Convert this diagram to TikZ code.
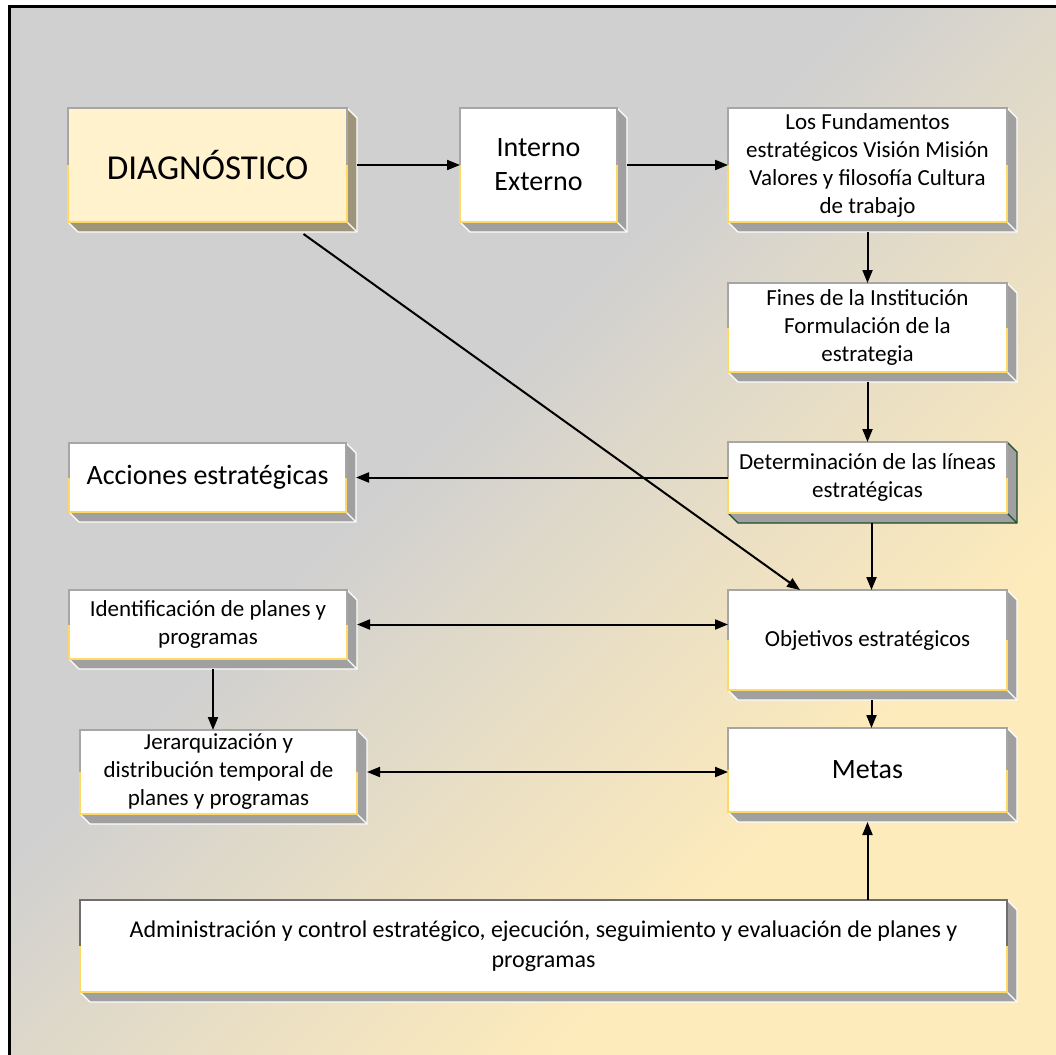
\documentclass[tikz,border=0pt]{standalone}
\usepackage{fontspec}
\setmainfont{Carlito}
\usetikzlibrary{arrows.meta}
\definecolor{bgGray}{HTML}{D0D0D0}
\definecolor{bgYellow}{HTML}{FEEBBB}
\definecolor{faceYellow}{HTML}{FFF2CC}
\definecolor{edgeGray}{HTML}{A6A6A6}
\definecolor{edgeYellow}{HTML}{FFD966}
\definecolor{edgeDark}{HTML}{6E6E6E}
\definecolor{sideGray}{HTML}{A0A0A0}
\definecolor{sideBrown}{HTML}{9D9479}
\definecolor{sideGreen}{HTML}{1E4D2B}
\pgfdeclarehorizontalshading{backshade}{100bp}
  {color(0bp)=(bgGray); color(43bp)=(bgGray); color(56bp)=(bgGray!45!bgYellow); color(68bp)=(bgYellow); color(100bp)=(bgYellow)}
\newcommand{\extrude}[4]
{
  \fill[#2] (#1.north east) -- ++(10,10) -- ([shift={(10,10)}]#1.south east)
    -- ([shift={(10,10)}]#1.south west) -- (#1.south west) -- (#1.south east) -- cycle;
  \draw[#3, line width=1.2pt, line join=round] (#1.north east) -- ++(10,10)
    -- ([shift={(10,10)}]#1.south east) -- ([shift={(10,10)}]#1.south west) -- (#1.south west);
  \draw[#3, line width=1.2pt] (#1.south east) -- ++(10,10);
  \draw[#4, line width=2.5pt] (#1.south west) rectangle (#1.north east);
  \draw[edgeYellow, line width=2.5pt] (#1.west) -- (#1.south west) -- (#1.south east) -- (#1.east);
}
\begin{document}
\begin{tikzpicture}
    [
      x=1pt,
      y=-1pt,
      box/.style=
      {
        align=center,
        inner sep=0pt,
        outer sep=0pt,
        minimum width=279pt,
        text=black,
        fill=white,
        font=\fontsize{23}{28}\selectfont
      },
      arr/.style=
      {
        line width=2pt,
        -{Triangle[length=13pt,width=10pt]}
      },
      arrboth/.style=
      {
        line width=2pt,
        {Triangle[length=13pt,width=10pt]}-{Triangle[length=13pt,width=10pt]}
      }
    ]
    % background and frame
    \begin{scope}
      \clip (0,0) rectangle (1056,1054);
      \shade[shading=backshade, shading angle=-45] (9,7) rectangle (1070,1070);
      \draw[black, line width=3pt] (9,1070) -- (9,7) -- (1070,7);
    \end{scope}
    \useasboundingbox (0,0) rectangle (1056,1054);

    \node[box, fill=faceYellow, minimum height=114pt, font=\fontsize{35}{42}\selectfont](Diagnostico) at (207.5,165)
    {DIAGNÓSTICO};
    \node[box, minimum width=157pt, minimum height=114pt, font=\fontsize{28}{34}\selectfont](InternoExterno) at (538.5,165)
    {Interno\\Externo};
    \node[box, minimum height=114pt](Fundamentos) at (867.5,165)
    {Los Fundamentos\\estratégicos Visión Misión\\Valores y filosofía Cultura\\de trabajo};
    \node[box, minimum height=89pt, below of=Fundamentos, node distance=162.5pt](Fines)
    {Fines de la Institución\\Formulación de la\\estrategia};
    \node[box, minimum height=71pt](Lineas) at (867.5,477.5)
    {Determinación de las líneas\\estratégicas};
    \node[box, minimum width=277pt, minimum height=69pt, font=\fontsize{28}{34}\selectfont](Acciones) at (207.5,477.5)
    {Acciones estratégicas};
    \node[box, minimum height=100pt](Objetivos) at (867.5,640)
    {Objetivos estratégicos};
    \node[box, minimum height=84pt, font=\fontsize{28}{34}\selectfont](Metas) at (867.5,770)
    {Metas};
    \node[box, minimum width=278pt, minimum height=69pt](Planes) at (208,624.5)
    {Identificación de planes y\\programas};
    \node[box, minimum width=277pt, minimum height=84pt](Jerarquia) at (218.5,772)
    {Jerarquización y\\distribución temporal de\\planes y programas};
    \node[box, minimum width=927pt, minimum height=92pt, font=\fontsize{24}{30}\selectfont](Control) at (543.5,946)
    {Administración y control estratégico, ejecución, seguimiento y evaluación de planes y\\programas};

    % 3d sides
    \extrude{Diagnostico}{sideBrown}{white}{edgeGray}
    \foreach \n in {InternoExterno,Fundamentos,Fines,Acciones,Objetivos,Metas,Planes,Jerarquia}
      {\extrude{\n}{sideGray}{white}{edgeGray}}
    \extrude{Lineas}{sideGray}{sideGreen}{edgeGray}
    \extrude{Control}{sideGray}{white}{edgeDark}

    % connectors
    \draw[arr] ([xshift=10pt]Diagnostico.east) -- (InternoExterno.west);
    \draw[arr] ([xshift=10pt]InternoExterno.east) -- (Fundamentos.west);
    \draw[arr] ([shift={(0,10)}]Fundamentos.south) -- (Fines.north);
    \draw[arr] ([shift={(0,10)}]Fines.south) -- (Lineas.north);
    \draw[arr] (Lineas.west) -- ([xshift=10pt]Acciones.east);
    \draw[arr] ([shift={(4,10)}]Lineas.south) -- ([xshift=4pt]Objetivos.north);
    \draw[arr] ([shift={(96,12)}]Diagnostico.south) -- ([xshift=-67.5pt]Objetivos.north);
    \draw[arrboth] ([xshift=10pt]Planes.east) -- (Planes.east -| Objetivos.west);
    \draw[arr] ([shift={(5,10)}]Planes.south) -- ([xshift=-5.5pt]Jerarquia.north);
    \draw[arrboth] ([xshift=10pt]Jerarquia.east) -- (Jerarquia.east -| Metas.west);
    \draw[arr] ([shift={(4,10)}]Objetivos.south) -- ([xshift=4pt]Metas.north);
    \draw[arr] (Control.north -| Metas.south) -- ([shift={(0,10)}]Metas.south);
\end{tikzpicture}
\end{document}
